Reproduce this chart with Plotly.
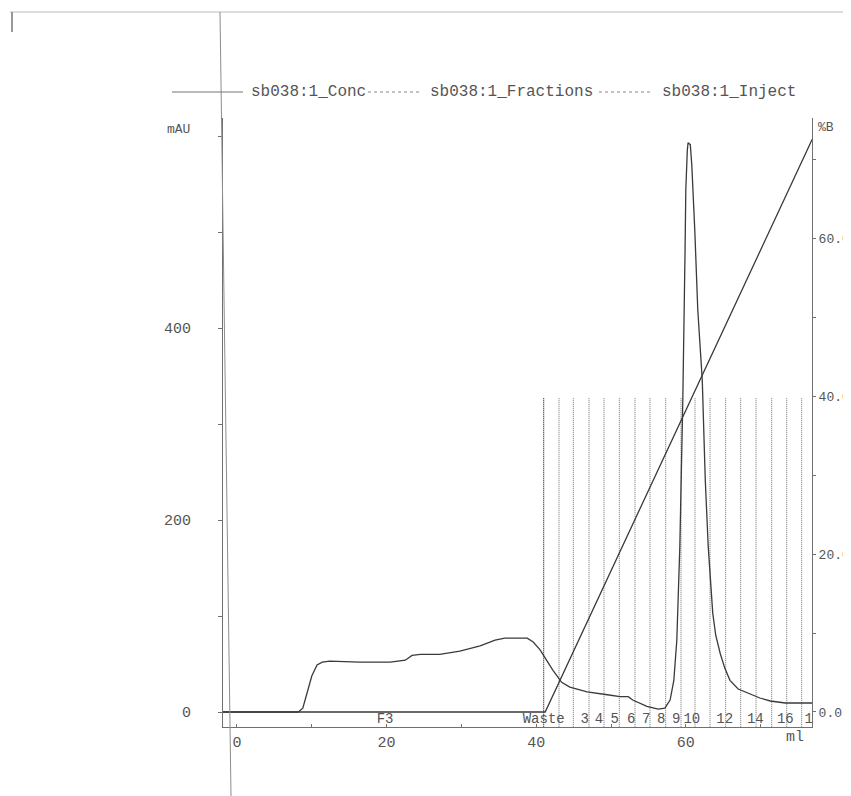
import plotly.graph_objects as go

# ---------------- data ----------------
uv_ml = [-1.9, 8.2, 8.8, 9.5, 10.0, 10.7, 11.4, 12.4, 16.4, 20.5, 22.5, 23.4, 24.5, 27.1,
         29.8, 32.5, 34.5, 35.8, 38.8, 39.6, 40.5, 42.2, 43.4, 44.5, 46.8, 49.5, 51.2,
         52.3, 52.9, 54.8, 56.3, 57.2, 57.9, 58.4, 58.8, 59.2, 59.6, 59.9, 60.0, 60.2,
         60.3, 60.6, 60.8, 61.2, 61.6, 62.2, 62.6, 63.0, 63.6, 64.0, 64.6, 65.2, 65.9,
         67.0, 68.2, 69.9, 71.3, 73.3, 76.9]
uv_mau = [0, 0, 4, 23, 37.5, 49, 52, 53, 52, 52, 54, 59, 60, 60,
          63.5, 69, 75, 77, 77, 73, 65, 44, 31, 26, 21, 18, 16,
          16, 12.5, 6, 3, 4, 12.5, 33, 75, 172, 325, 481, 544, 585,
          593, 591, 570, 502, 419, 346, 242, 172, 103, 80, 61, 46, 33,
          24, 20, 14.6, 11.5, 9.4, 9.4]

conc_ml = [-1.9, 41.2, 76.9]
conc_pctB = [0, 0, 72.5]

frac_ml = [41.0, 43.05, 44.96, 47.06, 49.06, 51.11, 53.21, 55.21, 57.31, 59.36,
           61.23, 63.24, 65.33, 67.34, 69.39, 71.48, 73.49, 75.49]
frac_top_mau = 327

inject_ml = [41.0]

frac_labels = ["F3", "Waste", "3", "4", "5", "6", "7", "8", "9", "10", "12", "14", "16", "18"]
frac_label_ml = [19.8, 41.0, 46.5, 48.4, 50.5, 52.7, 54.7, 56.7, 58.7, 60.8, 65.2, 69.3, 73.3, 77.0]
frac_label_mau = -8

x_tickvals = [0, 10, 20, 30, 40, 50, 60, 70]
x_ticktext = ["0", "", "20", "", "40", "", "60", ""]
y_tickvals = [0, 100, 200, 300, 400, 500, 600]
y_ticktext = ["0", "", "200", "", "400", "", ""]
y2_tickvals = [0, 10, 20, 30, 40, 50, 60, 70]
y2_ticktext = ["0.0", "", "20.0", "", "40.0", "", "60.0", ""]

legend_names = ["sb038:1_Conc", "sb038:1_Fractions", "sb038:1_Inject"]

# ---------------- geometry helpers (screen pixel -> paper) ----------------
OFF = 8                     # browser body margin
W, H = 851 - OFF, 796 - OFF
L, R, T, B = 223, 812, 118, 727   # plot area in screen pixels


def px(x):
    return (x - L) / (R - L)


def py(y):
    return (B - y) / (B - T)


FONT = "Liberation Mono, Courier New, monospace"
TXT = "#555555"
LINE = "#3a3a3a"
AX = "#707070"

fig = go.Figure()

# fraction lines
fx, fy = [], []
for m in frac_ml:
    fx += [m, m, None]
    fy += [-20, frac_top_mau, None]
fig.add_trace(go.Scatter(x=fx, y=fy, mode="lines", name=legend_names[1],
                         line=dict(color="#6f6f6f", width=1, dash="1px,1px"),
                         hoverinfo="skip"))
# inject mark
ix, iy = [], []
for m in inject_ml:
    ix += [m, m, None]
    iy += [-20, frac_top_mau, None]
fig.add_trace(go.Scatter(x=ix, y=iy, mode="lines", name=legend_names[2],
                         line=dict(color="#444444", width=1, dash="1px,1px"),
                         hoverinfo="skip"))

# UV curve
fig.add_trace(go.Scatter(x=uv_ml, y=uv_mau, mode="lines", name="UV",
                         line=dict(color=LINE, width=1.3)))

# Conc (%B)
fig.add_trace(go.Scatter(x=conc_ml, y=conc_pctB, mode="lines", name=legend_names[0],
                         yaxis="y2", line=dict(color=LINE, width=1.3)))

# fraction labels
fig.add_trace(go.Scatter(x=frac_label_ml, y=[frac_label_mau] * len(frac_label_ml),
                         mode="text", text=frac_labels, textposition="middle center",
                         textfont=dict(family=FONT, size=14, color=TXT),
                         cliponaxis=True, hoverinfo="skip"))

shapes = []
# scan artefacts: page edges and fold line
shapes.append(dict(type="line", xref="paper", yref="paper",
                   x0=px(10), y0=py(12), x1=px(851), y1=py(12),
                   line=dict(color="#dddddd", width=2)))
shapes.append(dict(type="line", xref="paper", yref="paper",
                   x0=px(12), y0=py(12), x1=px(12), y1=py(32),
                   line=dict(color="#999999", width=2)))
shapes.append(dict(type="line", xref="paper", yref="paper",
                   x0=px(220), y0=py(12), x1=px(231), y1=py(796),
                   line=dict(color="#8c8c8c", width=1)))

# legend samples
shapes.append(dict(type="line", xref="paper", yref="paper",
                   x0=px(172), y0=py(92), x1=px(243), y1=py(92),
                   line=dict(color="#777777", width=1.2)))
shapes.append(dict(type="line", xref="paper", yref="paper",
                   x0=px(368), y0=py(92), x1=px(420), y1=py(92),
                   line=dict(color="#888888", width=1, dash="dot")))
shapes.append(dict(type="line", xref="paper", yref="paper",
                   x0=px(599), y0=py(92), x1=px(651), y1=py(92),
                   line=dict(color="#888888", width=1, dash="dot")))

annotations = []
for name, x0 in zip(legend_names, [249, 428, 660]):
    annotations.append(dict(text=name, xref="paper", yref="paper", x=px(x0), y=py(92),
                            xanchor="left", yanchor="middle", showarrow=False,
                            font=dict(family=FONT, size=16, color=TXT)))
annotations.append(dict(text="mAU", xref="paper", yref="paper", x=px(178), y=py(130),
                        xanchor="center", yanchor="middle", showarrow=False,
                        font=dict(family=FONT, size=13, color=TXT)))
annotations.append(dict(text="%B", xref="paper", yref="paper", x=px(816), y=py(128),
                        xanchor="left", yanchor="middle", showarrow=False,
                        font=dict(family=FONT, size=13, color=TXT)))
annotations.append(dict(text="ml", xref="paper", yref="paper", x=px(795), y=py(737),
                        xanchor="center", yanchor="middle", showarrow=False,
                        font=dict(family=FONT, size=15, color=TXT)))

fig.update_layout(
    width=W, height=H,
    margin=dict(l=L - OFF, r=W - (R - OFF), t=T - OFF, b=H - (B - OFF), pad=0),
    paper_bgcolor="white", plot_bgcolor="white",
    showlegend=False,
    shapes=shapes, annotations=annotations,
    xaxis=dict(range=[-1.87, 76.87], showgrid=False, zeroline=False,
               showline=True, linecolor=AX, linewidth=1,
               ticks="inside", ticklen=3, tickcolor=AX,
               tickvals=x_tickvals, ticktext=x_ticktext,
               tickfont=dict(family=FONT, size=15, color=TXT),
               ticklabelstandoff=1, automargin=False),
    yaxis=dict(range=[-15.6, 618.8], showgrid=False, zeroline=False,
               showline=True, linecolor=AX, linewidth=1,
               ticks="outside", ticklen=4, tickcolor=AX,
               tickvals=y_tickvals, ticktext=y_ticktext,
               tickfont=dict(family=FONT, size=15, color=TXT),
               ticklabelstandoff=24, automargin=False),
    yaxis2=dict(overlaying="y", side="right", range=[-1.9, 75.2],
                showgrid=False, zeroline=False,
                showline=True, linecolor=AX, linewidth=1,
                ticks="outside", ticklen=3, tickcolor=AX,
                tickvals=y2_tickvals, ticktext=y2_ticktext,
                tickfont=dict(family=FONT, size=13, color=TXT),
                ticklabelstandoff=0, automargin=False),
)

fig.write_html("out.html")
